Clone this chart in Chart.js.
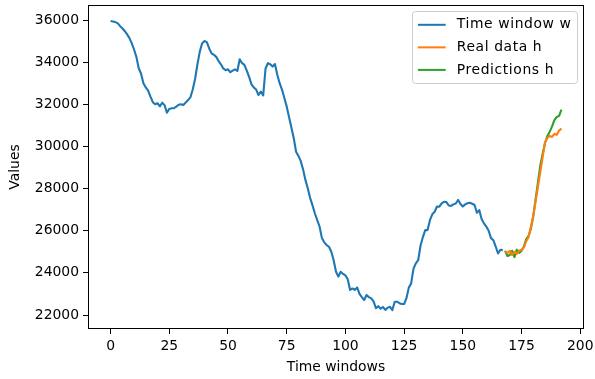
<!DOCTYPE html>
<html><head><meta charset="utf-8">
<script src="https://cdn.jsdelivr.net/npm/chart.js@4.4.0/dist/chart.umd.min.js"></script>
<style>html,body{margin:0;padding:0;background:#fff}#wrap{width:595px;height:379px}</style>
</head><body><div id="wrap"><canvas id="c" width="595" height="379"></canvas></div>
<script>
// ---- data ----
const windowStart = 0;
const horizonStart = 168;
const windowValues = [
35950,35930,35900,35850,35720,35610,35480,35330,35150,34900,
34600,34250,33710,33450,33000,32800,32650,32360,32100,32000,
32050,31900,32075,31960,31600,31780,31810,31820,31890,31980,
32000,31970,32080,32200,32330,32700,33200,33900,34500,34900,
35000,34950,34650,34420,34350,34250,34050,33900,33700,33620,
33660,33520,33600,33660,33580,34140,33950,33870,33600,33300,
32950,32800,32700,32440,32600,32420,33700,33950,33900,33790,
33910,33400,33000,32700,32300,31900,31400,30900,30400,29750,
29550,29300,28900,28400,28000,27550,27200,26830,26500,26200,
25650,25450,25320,25240,25000,24600,24050,23820,24050,23950,
23880,23700,23190,23260,23190,23310,23000,22850,22710,22950,
22850,22790,22650,22320,22420,22300,22380,22240,22350,22390,
22235,22630,22630,22560,22520,22520,22800,23300,23500,24200,
24450,24600,25300,25700,26030,26030,26500,26780,26900,27150,
27140,27300,27375,27360,27200,27180,27250,27290,27460,27270,
27150,27250,27300,27330,27280,27220,26850,26980,26560,26350,
26200,26000,25650,25550,25250,24920,25100,25080
];
const realValues = [
25000,24950,25050,24850,25000,24900,25050,25100,25200,25500,
25700,26200,26700,27400,28100,28800,29500,30200,30400,30500,
30450,30600,30550,30750,30850
];
const predValues = [
25050,24800,24850,25050,24750,25100,24950,25050,25250,25600,
25750,26100,26700,27500,28300,29100,29650,30150,30500,30700,
30950,31250,31400,31450,31750
];
const seriesNames = ['Time window w', 'Real data h', 'Predictions h'];
const xTicks = [0, 25, 50, 75, 100, 125, 150, 175, 200];
const yTicks = [22000, 24000, 26000, 28000, 30000, 32000, 34000, 36000];
const xTitle = 'Time windows';
const yTitle = 'Values';

// ---- build ----
const toPts = (arr, start) => arr.map((v, i) => ({x: start + i, y: v}));
const FS = 13.9;
const FONT = 'DejaVu Sans';
const colors = ['#1f77b4', '#ff7f0e', '#2ca02c'];

const framePlugin = {
  id: 'frame',
  afterDatasetsDraw(chart) {
    const {ctx, chartArea: a} = chart;
    ctx.save();
    ctx.strokeStyle = '#000';
    ctx.lineWidth = 1;
    ctx.strokeRect(Math.round(a.left) + 0.5, Math.round(a.top) + 0.5,
      Math.round(a.right - a.left) - 1, Math.round(a.bottom - a.top) - 1);
    ctx.restore();
  }
};

const legendPlugin = {
  id: 'boxLegend',
  afterDraw(chart) {
    const {ctx, chartArea: a} = chart;
    const ds = chart.data.datasets;
    const LS = 0.6;
    ctx.save();
    ctx.font = FS + 'px "' + FONT + '"';
    const textW = Math.max(...ds.map(d => ctx.measureText(d.label).width + LS * d.label.length));
    const pad = 0.4 * FS, hl = 2 * FS, htp = 0.8 * FS, rowH = 15.6, gap = 0.5 * FS;
    const w = pad * 2 + hl + htp + textW;
    const h = pad * 2 + ds.length * rowH + (ds.length - 1) * gap;
    const x0 = a.right - 0.5 * FS - w, y0 = a.top + 0.5 * FS - 1;
    ctx.beginPath();
    ctx.roundRect(Math.round(x0) + 0.5, Math.round(y0) + 0.5, Math.round(w), Math.round(h), 3);
    ctx.fillStyle = 'rgba(255,255,255,0.8)';
    ctx.fill();
    ctx.strokeStyle = '#cccccc';
    ctx.lineWidth = 1;
    ctx.stroke();
    ds.forEach((d, i) => {
      const cy = y0 + pad + rowH / 2 + i * (rowH + gap) + 0.5;
      ctx.beginPath();
      ctx.moveTo(x0 + pad, cy);
      ctx.lineTo(x0 + pad + hl, cy);
      ctx.strokeStyle = d.borderColor;
      ctx.lineWidth = 2;
      ctx.stroke();
      ctx.fillStyle = '#000';
      ctx.textBaseline = 'middle';
      ctx.textAlign = 'left';
      if ('letterSpacing' in ctx) ctx.letterSpacing = LS + 'px';
      ctx.fillText(d.label, x0 + pad + hl + htp, cy);
      if ('letterSpacing' in ctx) ctx.letterSpacing = '0px';
    });
    ctx.restore();
  }
};

new Chart(document.getElementById('c'), {
  type: 'line',
  data: {
    datasets: [
      {label: seriesNames[0], data: toPts(windowValues, windowStart), borderColor: colors[0]},
      {label: seriesNames[1], data: toPts(realValues, horizonStart), borderColor: colors[1]},
      {label: seriesNames[2], data: toPts(predValues, horizonStart), borderColor: colors[2]}
    ]
  },
  options: {
    responsive: false,
    animation: false,
    devicePixelRatio: 1,
    layout: {padding: {left: 0, right: 11, top: 5, bottom: 0}},
    elements: {
      line: {borderWidth: 2.1, tension: 0, fill: false, borderCapStyle: 'butt', borderJoinStyle: 'round'},
      point: {radius: 0, hoverRadius: 0}
    },
    plugins: {legend: {display: false}, tooltip: {enabled: false}},
    scales: {
      x: {
        type: 'linear', min: -9.6, max: 201.6,
        afterBuildTicks: s => { s.ticks = xTicks.map(v => ({value: v})); },
        afterFit: s => { s.height = 50; s.paddingLeft = 0; s.paddingRight = 0; },
        grid: {drawOnChartArea: false, drawTicks: true, tickLength: 5, color: '#000', lineWidth: 1},
        border: {display: false},
        ticks: {font: {family: FONT, size: FS}, color: '#000', padding: 4, maxRotation: 0, autoSkip: false,
                callback: v => String(v)},
        title: {display: true, text: xTitle, font: {family: FONT, size: FS}, color: '#000', padding: {top: 0, bottom: 3.7}}
      },
      y: {
        type: 'linear', min: 21336, max: 36712,
        afterBuildTicks: s => { s.ticks = yTicks.map(v => ({value: v})); },
        afterFit: s => { s.width = 88; s.paddingTop = 0; s.paddingBottom = 0; },
        grid: {drawOnChartArea: false, drawTicks: true, tickLength: 5, color: '#000', lineWidth: 1},
        border: {display: false},
        ticks: {font: {family: FONT, size: FS}, color: '#000', padding: 4, autoSkip: false,
                callback: v => String(v)},
        title: {display: true, text: yTitle, font: {family: FONT, size: FS}, color: '#000', padding: {top: 6.7, bottom: 0}}
      }
    }
  },
  plugins: [framePlugin, legendPlugin]
});
</script></body></html>
